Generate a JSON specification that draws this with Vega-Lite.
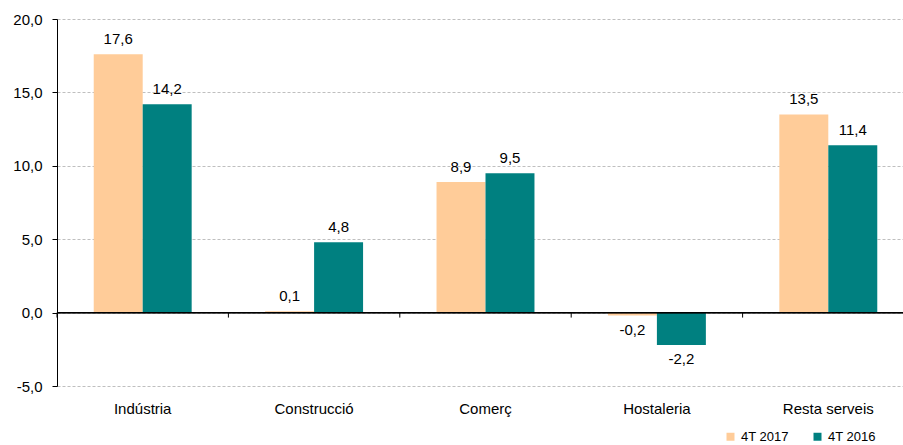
{
  "$schema": "https://vega.github.io/schema/vega-lite/v6.json",
  "width": 846,
  "height": 367,
  "autosize": {"type": "none"},
  "padding": {"left": 57, "top": 19, "right": 0, "bottom": 59},
  "background": "white",
  "config": {
    "view": {"stroke": null},
    "font": "Liberation Sans",
    "axis": {"labelFont": "Liberation Sans", "labelColor": "#000", "labelFontSize": 15},
    "legend": {"labelFont": "Liberation Sans", "labelColor": "#000"}
  },
  "data": {
    "values": [
      {"sector": "Indústria", "periode": "4T 2017", "valor": 17.6},
      {"sector": "Indústria", "periode": "4T 2016", "valor": 14.2},
      {"sector": "Construcció", "periode": "4T 2017", "valor": 0.1},
      {"sector": "Construcció", "periode": "4T 2016", "valor": 4.8},
      {"sector": "Comerç", "periode": "4T 2017", "valor": 8.9},
      {"sector": "Comerç", "periode": "4T 2016", "valor": 9.5},
      {"sector": "Hostaleria", "periode": "4T 2017", "valor": -0.2},
      {"sector": "Hostaleria", "periode": "4T 2016", "valor": -2.2},
      {"sector": "Resta serveis", "periode": "4T 2017", "valor": 13.5},
      {"sector": "Resta serveis", "periode": "4T 2016", "valor": 11.4}
    ]
  },
  "transform": [
    {"calculate": "replace(replace(format(datum.valor, '.1f'), '.', ','), '\u2212', '-')", "as": "etiqueta"}
  ],
  "encoding": {
    "x": {
      "field": "sector",
      "type": "nominal",
      "sort": ["Indústria", "Construcció", "Comerç", "Hostaleria", "Resta serveis"],
      "scale": {"range": [0, 857], "paddingInner": 0, "paddingOuter": 0},
      "title": null,
      "axis": {
        "orient": "bottom",
        "domain": false,
        "ticks": false,
        "labelAngle": 0,
        "labelPadding": 15,
        "labelFontSize": 15
      }
    },
    "xOffset": {
      "field": "periode",
      "type": "nominal",
      "sort": ["4T 2017", "4T 2016"],
      "scale": {"paddingInner": 0, "paddingOuter": 0.75}
    }
  },
  "layer": [
    {
      "mark": {"type": "bar", "clip": false},
      "encoding": {
        "y": {
          "field": "valor",
          "type": "quantitative",
          "scale": {"domain": [-5, 20], "nice": false, "zero": false},
          "axis": {
            "values": [-5, 0, 5, 10, 15, 20],
            "labelExpr": "replace(replace(format(datum.value, '.1f'), '.', ','), '\u2212', '-')",
            "title": null,
            "domainColor": "#000",
            "domainWidth": 1,
            "tickColor": "#000",
            "tickSize": 5,
            "labelPadding": 10,
            "labelFontSize": 15,
            "gridColor": "#bfbfbf",
            "gridDash": [3, 2],
            "gridWidth": 1
          }
        },
        "color": {
          "field": "periode",
          "type": "nominal",
          "sort": ["4T 2017", "4T 2016"],
          "scale": {"domain": ["4T 2017", "4T 2016"], "range": ["#FFCC99", "#008080"]},
          "legend": {
            "title": null,
            "orient": "none",
            "direction": "horizontal",
            "legendX": 667,
            "legendY": 411,
            "symbolType": "square",
            "symbolSize": 64,
            "symbolStrokeWidth": 0,
            "labelFontSize": 13,
            "columnPadding": 22,
            "labelOffset": 4
          }
        }
      }
    },
    {
      "mark": {"type": "rule", "color": "#000", "strokeWidth": 1},
      "encoding": {
        "y": {"datum": 0, "type": "quantitative"},
        "x": null,
        "xOffset": null
      }
    },
    {
      "transform": [{"filter": "datum.periode === '4T 2017'"}, {"calculate": "0", "as": "zero"}, {"calculate": "-0.34", "as": "tickEnd"}],
      "mark": {"type": "rule", "color": "#000", "strokeWidth": 1},
      "encoding": {
        "x": {"field": "sector", "type": "nominal", "sort": ["Indústria", "Construcció", "Comerç", "Hostaleria", "Resta serveis"], "bandPosition": 0},
        "xOffset": null,
        "y": {"field": "zero", "type": "quantitative"},
        "y2": {"field": "tickEnd"}
      }
    },
    {
      "transform": [{"filter": "datum.valor >= 0"}],
      "mark": {"type": "text", "baseline": "bottom", "dy": -7, "fontSize": 15, "color": "#000"},
      "encoding": {
        "y": {"field": "valor", "type": "quantitative"},
        "text": {"field": "etiqueta"}
      }
    },
    {
      "transform": [{"filter": "datum.valor < 0"}],
      "mark": {"type": "text", "baseline": "top", "dy": 7, "fontSize": 15, "color": "#000"},
      "encoding": {
        "y": {"field": "valor", "type": "quantitative"},
        "text": {"field": "etiqueta"}
      }
    }
  ]
}
